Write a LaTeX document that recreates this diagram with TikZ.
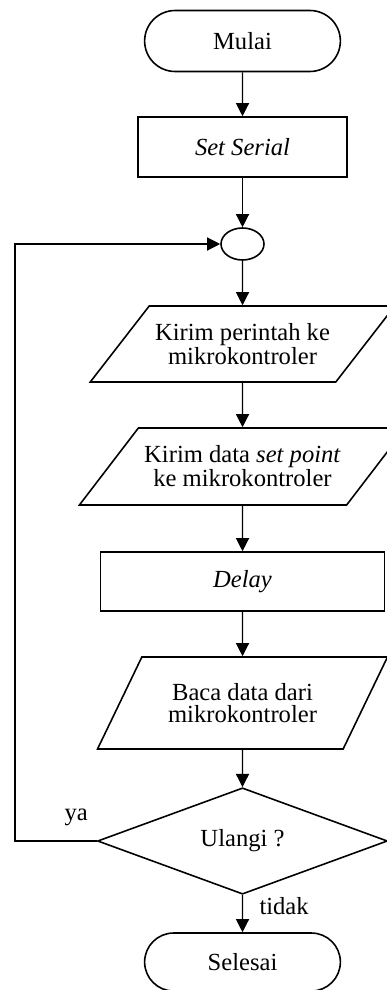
\documentclass[tikz,border=0pt]{standalone}
\usepackage{fontspec}
\setmainfont{Liberation Serif}
\usetikzlibrary{shapes.geometric, shapes.misc, arrows.meta}

\begin{document}
\begin{tikzpicture}[x=0.02cm, y=-0.02cm,
  >={Triangle[length=7.5pt, width=7.5pt]},
  every node/.style={font=\fontsize{14}{12.5}\selectfont, align=center},
  terminal/.style={draw, line width=0.9pt, rounded rectangle, minimum width=4.15cm, minimum height=1.22cm},
  process/.style={draw, line width=0.9pt, rectangle, minimum height=1.2cm},
  io/.style={draw, line width=0.9pt, trapezium, trapezium left angle=42, trapezium right angle=138, trapezium stretches body},
  decision/.style={draw, line width=0.9pt, diamond, inner sep=0pt},
  junction/.style={draw, line width=0.9pt, ellipse, inner sep=0pt, minimum width=0.86cm, minimum height=0.64cm},
  flow/.style={->, line width=0.7pt}]
\useasboundingbox (0,0) rectangle (386,990);

% symbols
\node[terminal] (mulai) at (242.5,41) {Mulai};
\node[process, minimum width=4.18cm] (serial) at (242.5,147) {\textit{Set Serial}};
\node[junction] (junction) at (242.5,244) {};
\node[io, minimum width=5.9cm, minimum height=1.52cm] (kirimcmd) at (242.5,344) {Kirim perintah ke\\ mikrokontroler};
\node[io, minimum width=6.3cm, minimum height=1.54cm] (kirimsp) at (242.5,466.5) {Kirim data \textit{set point}\\ ke mikrokontroler};
\node[process, minimum width=5.68cm, minimum height=1.18cm] (delay) at (242.5,581.5) {\textit{Delay}};
\node[io, trapezium left angle=49, trapezium right angle=131, minimum width=5.8cm, minimum height=1.84cm] (baca) at (242.5,703) {Baca data dari\\ mikrokontroler};
\node[decision, minimum width=5.8cm, minimum height=1.82cm] (ulangi) at (242.5,841) {Ulangi ?};
\node[terminal, minimum height=1.16cm] (selesai) at (242.5,962) {Selesai};
\coordinate (back) at (15,841);

% arrows
\draw[flow] (mulai) -- (serial);
\draw[flow] (serial) -- (junction);
\draw[flow] (junction) -- (kirimcmd);
\draw[flow] (kirimcmd) -- (kirimsp);
\draw[flow] (kirimsp) -- (delay);
\draw[flow] (delay) -- (baca);
\draw[flow] (baca) -- (ulangi);
\draw[flow] (ulangi) -- (selesai) node[right=6pt, pos=0.3] {tidak};
\draw[flow] (ulangi.west) -- (back) node[above=5pt, pos=0.25] {ya} |- (junction.west);
\end{tikzpicture}
\end{document}
